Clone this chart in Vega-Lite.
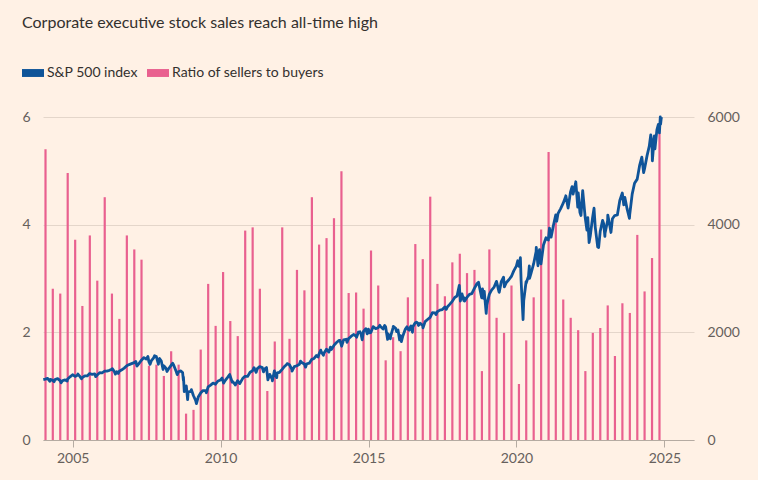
{
  "$schema": "https://vega.github.io/schema/vega-lite/v6.json",
  "autosize": "none",
  "width": 651,
  "height": 323,
  "padding": {"left": 43, "top": 117, "right": 64, "bottom": 40},
  "background": "#fff1e5",
  "config": {
    "view": {"stroke": null},
    "font": "Lato",
    "axis": {"labelFont": "Lato", "labelFontSize": 14, "labelColor": "#66605c", "titleFontSize": 0}
  },
  "title": {
    "text": "Corporate executive stock sales reach all-time high",
    "anchor": "start",
    "frame": "group",
    "dx": -21,
    "offset": 31,
    "fontSize": 16,
    "fontWeight": "normal",
    "font": "Lato",
    "color": "#33302e"
  },
  "datasets": {
    "ratio": [
      {"date": "2004-02-01", "ratio": 5.40}, {"date": "2004-05-01", "ratio": 2.81}, {"date": "2004-08-01", "ratio": 2.72}, {"date": "2004-11-01", "ratio": 4.96},
      {"date": "2005-02-01", "ratio": 3.72}, {"date": "2005-05-01", "ratio": 2.49}, {"date": "2005-08-01", "ratio": 3.80}, {"date": "2005-11-01", "ratio": 2.96},
      {"date": "2006-02-01", "ratio": 4.51}, {"date": "2006-05-01", "ratio": 2.72}, {"date": "2006-08-01", "ratio": 2.25}, {"date": "2006-11-01", "ratio": 3.80},
      {"date": "2007-02-01", "ratio": 3.54}, {"date": "2007-05-01", "ratio": 3.35}, {"date": "2007-08-01", "ratio": 1.38}, {"date": "2007-11-01", "ratio": 1.40},
      {"date": "2008-02-01", "ratio": 1.19}, {"date": "2008-05-01", "ratio": 1.65}, {"date": "2008-08-01", "ratio": 1.40}, {"date": "2008-11-01", "ratio": 0.49},
      {"date": "2009-02-01", "ratio": 0.56}, {"date": "2009-05-01", "ratio": 1.68}, {"date": "2009-08-01", "ratio": 2.90}, {"date": "2009-11-01", "ratio": 2.12},
      {"date": "2010-02-01", "ratio": 3.12}, {"date": "2010-05-01", "ratio": 2.21}, {"date": "2010-08-01", "ratio": 1.93}, {"date": "2010-11-01", "ratio": 3.89},
      {"date": "2011-02-01", "ratio": 3.95}, {"date": "2011-05-01", "ratio": 2.81}, {"date": "2011-08-01", "ratio": 0.91}, {"date": "2011-11-01", "ratio": 1.83},
      {"date": "2012-02-01", "ratio": 3.95}, {"date": "2012-05-01", "ratio": 1.88}, {"date": "2012-08-01", "ratio": 3.16}, {"date": "2012-11-01", "ratio": 2.78},
      {"date": "2013-02-01", "ratio": 4.51}, {"date": "2013-05-01", "ratio": 3.63}, {"date": "2013-08-01", "ratio": 3.75}, {"date": "2013-11-01", "ratio": 4.12},
      {"date": "2014-02-01", "ratio": 4.99}, {"date": "2014-05-01", "ratio": 2.73}, {"date": "2014-08-01", "ratio": 2.74}, {"date": "2014-11-01", "ratio": 2.44},
      {"date": "2015-02-01", "ratio": 3.52}, {"date": "2015-05-01", "ratio": 2.87}, {"date": "2015-08-01", "ratio": 1.48}, {"date": "2015-11-01", "ratio": 1.91},
      {"date": "2016-02-01", "ratio": 1.65}, {"date": "2016-05-01", "ratio": 2.65}, {"date": "2016-08-01", "ratio": 3.64}, {"date": "2016-11-01", "ratio": 3.36},
      {"date": "2017-02-01", "ratio": 4.52}, {"date": "2017-05-01", "ratio": 2.90}, {"date": "2017-08-01", "ratio": 2.67}, {"date": "2017-11-01", "ratio": 3.30},
      {"date": "2018-02-01", "ratio": 3.46}, {"date": "2018-05-01", "ratio": 3.10}, {"date": "2018-08-01", "ratio": 3.16}, {"date": "2018-11-01", "ratio": 1.28},
      {"date": "2019-02-01", "ratio": 3.54}, {"date": "2019-05-01", "ratio": 2.27}, {"date": "2019-08-01", "ratio": 1.99}, {"date": "2019-11-01", "ratio": 2.87},
      {"date": "2020-02-01", "ratio": 1.04}, {"date": "2020-05-01", "ratio": 1.85}, {"date": "2020-08-01", "ratio": 2.65}, {"date": "2020-11-01", "ratio": 3.91},
      {"date": "2021-02-01", "ratio": 5.35}, {"date": "2021-05-01", "ratio": 4.04}, {"date": "2021-08-01", "ratio": 2.61}, {"date": "2021-11-01", "ratio": 2.27},
      {"date": "2022-02-01", "ratio": 2.04}, {"date": "2022-05-01", "ratio": 1.28}, {"date": "2022-08-01", "ratio": 1.99}, {"date": "2022-11-01", "ratio": 2.08},
      {"date": "2023-02-01", "ratio": 2.50}, {"date": "2023-05-01", "ratio": 1.56}, {"date": "2023-08-01", "ratio": 2.54}, {"date": "2023-11-01", "ratio": 2.36},
      {"date": "2024-02-01", "ratio": 3.81}, {"date": "2024-05-01", "ratio": 2.76}, {"date": "2024-08-01", "ratio": 3.38}, {"date": "2024-11-01", "ratio": 5.70}
    ],
    "spx": [
      {"date": "2004-01-05", "spx": 1122}, {"date": "2004-01-30", "spx": 1131}, {"date": "2004-02-27", "spx": 1145}, {"date": "2004-03-24", "spx": 1091}, {"date": "2004-03-31", "spx": 1126}, {"date": "2004-04-30", "spx": 1107}, {"date": "2004-05-17", "spx": 1084}, {"date": "2004-05-28", "spx": 1121}, {"date": "2004-06-30", "spx": 1141}, {"date": "2004-07-30", "spx": 1102}, {"date": "2004-08-12", "spx": 1063}, {"date": "2004-08-31", "spx": 1104}, {"date": "2004-09-30", "spx": 1115}, {"date": "2004-10-25", "spx": 1095}, {"date": "2004-10-29", "spx": 1130}, {"date": "2004-11-30", "spx": 1174}, {"date": "2004-12-31", "spx": 1212},
      {"date": "2005-01-31", "spx": 1181}, {"date": "2005-02-28", "spx": 1204}, {"date": "2005-03-07", "spx": 1225}, {"date": "2005-03-31", "spx": 1181}, {"date": "2005-04-20", "spx": 1138}, {"date": "2005-04-29", "spx": 1157}, {"date": "2005-05-31", "spx": 1192}, {"date": "2005-06-30", "spx": 1191}, {"date": "2005-07-29", "spx": 1234}, {"date": "2005-08-31", "spx": 1220}, {"date": "2005-09-30", "spx": 1229}, {"date": "2005-10-13", "spx": 1177}, {"date": "2005-10-31", "spx": 1207}, {"date": "2005-11-30", "spx": 1249}, {"date": "2005-12-30", "spx": 1248},
      {"date": "2006-01-31", "spx": 1280}, {"date": "2006-02-28", "spx": 1281}, {"date": "2006-03-31", "spx": 1295}, {"date": "2006-04-28", "spx": 1311}, {"date": "2006-05-05", "spx": 1325}, {"date": "2006-05-31", "spx": 1270}, {"date": "2006-06-13", "spx": 1223}, {"date": "2006-06-30", "spx": 1270}, {"date": "2006-07-18", "spx": 1236}, {"date": "2006-07-31", "spx": 1277}, {"date": "2006-08-31", "spx": 1304}, {"date": "2006-09-29", "spx": 1336}, {"date": "2006-10-31", "spx": 1378}, {"date": "2006-11-30", "spx": 1401}, {"date": "2006-12-29", "spx": 1418},
      {"date": "2007-01-31", "spx": 1438}, {"date": "2007-02-20", "spx": 1459}, {"date": "2007-03-05", "spx": 1374}, {"date": "2007-03-30", "spx": 1421}, {"date": "2007-04-30", "spx": 1482}, {"date": "2007-05-31", "spx": 1531}, {"date": "2007-06-29", "spx": 1503}, {"date": "2007-07-19", "spx": 1553}, {"date": "2007-07-31", "spx": 1455}, {"date": "2007-08-15", "spx": 1406}, {"date": "2007-08-31", "spx": 1474}, {"date": "2007-09-28", "spx": 1527}, {"date": "2007-10-09", "spx": 1565}, {"date": "2007-10-31", "spx": 1549}, {"date": "2007-11-26", "spx": 1407}, {"date": "2007-11-30", "spx": 1481}, {"date": "2007-12-10", "spx": 1515}, {"date": "2007-12-31", "spx": 1468},
      {"date": "2008-01-22", "spx": 1310}, {"date": "2008-01-31", "spx": 1379}, {"date": "2008-02-29", "spx": 1331}, {"date": "2008-03-10", "spx": 1273}, {"date": "2008-03-31", "spx": 1323}, {"date": "2008-04-30", "spx": 1386}, {"date": "2008-05-19", "spx": 1426}, {"date": "2008-05-30", "spx": 1400}, {"date": "2008-06-30", "spx": 1280}, {"date": "2008-07-15", "spx": 1214}, {"date": "2008-07-31", "spx": 1267}, {"date": "2008-08-29", "spx": 1283}, {"date": "2008-09-19", "spx": 1255}, {"date": "2008-09-29", "spx": 1106}, {"date": "2008-09-30", "spx": 1166}, {"date": "2008-10-10", "spx": 899}, {"date": "2008-10-31", "spx": 969}, {"date": "2008-11-04", "spx": 1005}, {"date": "2008-11-20", "spx": 752}, {"date": "2008-11-28", "spx": 896}, {"date": "2008-12-31", "spx": 903},
      {"date": "2009-01-06", "spx": 935}, {"date": "2009-01-30", "spx": 826}, {"date": "2009-02-27", "spx": 735}, {"date": "2009-03-09", "spx": 677}, {"date": "2009-03-31", "spx": 798}, {"date": "2009-04-30", "spx": 873}, {"date": "2009-05-29", "spx": 919}, {"date": "2009-06-30", "spx": 919}, {"date": "2009-07-10", "spx": 879}, {"date": "2009-07-31", "spx": 987}, {"date": "2009-08-31", "spx": 1021}, {"date": "2009-09-30", "spx": 1057}, {"date": "2009-10-30", "spx": 1036}, {"date": "2009-11-30", "spx": 1096}, {"date": "2009-12-31", "spx": 1115},
      {"date": "2010-01-19", "spx": 1150}, {"date": "2010-02-08", "spx": 1056}, {"date": "2010-02-26", "spx": 1104}, {"date": "2010-03-31", "spx": 1169}, {"date": "2010-04-23", "spx": 1217}, {"date": "2010-05-25", "spx": 1074}, {"date": "2010-05-28", "spx": 1089}, {"date": "2010-06-30", "spx": 1031}, {"date": "2010-07-02", "spx": 1022}, {"date": "2010-07-30", "spx": 1102}, {"date": "2010-08-26", "spx": 1047}, {"date": "2010-09-30", "spx": 1141}, {"date": "2010-10-29", "spx": 1183}, {"date": "2010-11-30", "spx": 1181}, {"date": "2010-12-31", "spx": 1258},
      {"date": "2011-01-31", "spx": 1286}, {"date": "2011-02-18", "spx": 1343}, {"date": "2011-03-16", "spx": 1257}, {"date": "2011-03-31", "spx": 1326}, {"date": "2011-04-29", "spx": 1364}, {"date": "2011-05-31", "spx": 1345}, {"date": "2011-06-15", "spx": 1266}, {"date": "2011-06-30", "spx": 1321}, {"date": "2011-07-22", "spx": 1345}, {"date": "2011-08-08", "spx": 1119}, {"date": "2011-08-31", "spx": 1219}, {"date": "2011-09-30", "spx": 1131}, {"date": "2011-10-03", "spx": 1099}, {"date": "2011-10-27", "spx": 1285}, {"date": "2011-10-31", "spx": 1253}, {"date": "2011-11-25", "spx": 1159}, {"date": "2011-11-30", "spx": 1247}, {"date": "2011-12-30", "spx": 1258},
      {"date": "2012-01-31", "spx": 1312}, {"date": "2012-02-29", "spx": 1366}, {"date": "2012-03-30", "spx": 1408}, {"date": "2012-04-02", "spx": 1419}, {"date": "2012-04-30", "spx": 1398}, {"date": "2012-05-31", "spx": 1310}, {"date": "2012-06-01", "spx": 1278}, {"date": "2012-06-29", "spx": 1362}, {"date": "2012-07-31", "spx": 1379}, {"date": "2012-08-31", "spx": 1407}, {"date": "2012-09-14", "spx": 1466}, {"date": "2012-09-28", "spx": 1441}, {"date": "2012-10-31", "spx": 1412}, {"date": "2012-11-15", "spx": 1353}, {"date": "2012-11-30", "spx": 1416}, {"date": "2012-12-31", "spx": 1426},
      {"date": "2013-01-31", "spx": 1498}, {"date": "2013-02-28", "spx": 1515}, {"date": "2013-03-28", "spx": 1569}, {"date": "2013-04-18", "spx": 1541}, {"date": "2013-04-30", "spx": 1598}, {"date": "2013-05-21", "spx": 1669}, {"date": "2013-05-31", "spx": 1631}, {"date": "2013-06-24", "spx": 1573}, {"date": "2013-06-28", "spx": 1606}, {"date": "2013-07-31", "spx": 1686}, {"date": "2013-08-30", "spx": 1633}, {"date": "2013-09-18", "spx": 1726}, {"date": "2013-09-30", "spx": 1682}, {"date": "2013-10-31", "spx": 1757}, {"date": "2013-11-29", "spx": 1806}, {"date": "2013-12-31", "spx": 1848},
      {"date": "2014-01-15", "spx": 1848}, {"date": "2014-02-03", "spx": 1742}, {"date": "2014-02-28", "spx": 1859}, {"date": "2014-03-31", "spx": 1872}, {"date": "2014-04-11", "spx": 1815}, {"date": "2014-04-30", "spx": 1884}, {"date": "2014-05-30", "spx": 1924}, {"date": "2014-06-30", "spx": 1960}, {"date": "2014-07-31", "spx": 1931}, {"date": "2014-08-07", "spx": 1910}, {"date": "2014-08-29", "spx": 2003}, {"date": "2014-09-18", "spx": 2011}, {"date": "2014-09-30", "spx": 1972}, {"date": "2014-10-15", "spx": 1862}, {"date": "2014-10-31", "spx": 2018}, {"date": "2014-11-28", "spx": 2068}, {"date": "2014-12-16", "spx": 1973}, {"date": "2014-12-31", "spx": 2059},
      {"date": "2015-01-15", "spx": 1992}, {"date": "2015-01-30", "spx": 1995}, {"date": "2015-02-27", "spx": 2105}, {"date": "2015-03-31", "spx": 2068}, {"date": "2015-04-30", "spx": 2086}, {"date": "2015-05-21", "spx": 2131}, {"date": "2015-05-29", "spx": 2107}, {"date": "2015-06-30", "spx": 2063}, {"date": "2015-07-20", "spx": 2128}, {"date": "2015-07-31", "spx": 2104}, {"date": "2015-08-25", "spx": 1868}, {"date": "2015-08-31", "spx": 1972}, {"date": "2015-09-28", "spx": 1881}, {"date": "2015-09-30", "spx": 1920}, {"date": "2015-10-30", "spx": 2079}, {"date": "2015-11-03", "spx": 2109}, {"date": "2015-11-30", "spx": 2080}, {"date": "2015-12-14", "spx": 2012}, {"date": "2015-12-31", "spx": 2044},
      {"date": "2016-01-20", "spx": 1859}, {"date": "2016-01-29", "spx": 1940}, {"date": "2016-02-11", "spx": 1829}, {"date": "2016-02-29", "spx": 1932}, {"date": "2016-03-31", "spx": 2060}, {"date": "2016-04-20", "spx": 2102}, {"date": "2016-04-29", "spx": 2065}, {"date": "2016-05-19", "spx": 2040}, {"date": "2016-05-31", "spx": 2097}, {"date": "2016-06-08", "spx": 2119}, {"date": "2016-06-27", "spx": 2001}, {"date": "2016-06-30", "spx": 2099}, {"date": "2016-07-29", "spx": 2174}, {"date": "2016-08-15", "spx": 2190}, {"date": "2016-08-31", "spx": 2171}, {"date": "2016-09-09", "spx": 2128}, {"date": "2016-09-30", "spx": 2168}, {"date": "2016-10-31", "spx": 2126}, {"date": "2016-11-04", "spx": 2085}, {"date": "2016-11-30", "spx": 2199}, {"date": "2016-12-30", "spx": 2239},
      {"date": "2017-01-31", "spx": 2279}, {"date": "2017-02-28", "spx": 2364}, {"date": "2017-03-31", "spx": 2363}, {"date": "2017-04-13", "spx": 2329}, {"date": "2017-04-28", "spx": 2384}, {"date": "2017-05-31", "spx": 2412}, {"date": "2017-06-30", "spx": 2423}, {"date": "2017-07-31", "spx": 2470}, {"date": "2017-08-18", "spx": 2426}, {"date": "2017-08-31", "spx": 2472}, {"date": "2017-09-29", "spx": 2519}, {"date": "2017-10-31", "spx": 2575}, {"date": "2017-11-30", "spx": 2648}, {"date": "2017-12-29", "spx": 2674},
      {"date": "2018-01-26", "spx": 2873}, {"date": "2018-02-08", "spx": 2581}, {"date": "2018-02-28", "spx": 2714}, {"date": "2018-03-23", "spx": 2588}, {"date": "2018-03-29", "spx": 2641}, {"date": "2018-04-02", "spx": 2582}, {"date": "2018-04-30", "spx": 2648}, {"date": "2018-05-31", "spx": 2705}, {"date": "2018-06-29", "spx": 2718}, {"date": "2018-07-31", "spx": 2816}, {"date": "2018-08-31", "spx": 2902}, {"date": "2018-09-20", "spx": 2931}, {"date": "2018-10-29", "spx": 2641}, {"date": "2018-10-31", "spx": 2712}, {"date": "2018-11-08", "spx": 2806}, {"date": "2018-11-23", "spx": 2633}, {"date": "2018-11-30", "spx": 2760}, {"date": "2018-12-24", "spx": 2351}, {"date": "2018-12-31", "spx": 2507},
      {"date": "2019-01-31", "spx": 2704}, {"date": "2019-02-28", "spx": 2784}, {"date": "2019-03-29", "spx": 2834}, {"date": "2019-04-30", "spx": 2946}, {"date": "2019-05-31", "spx": 2752}, {"date": "2019-06-03", "spx": 2744}, {"date": "2019-06-28", "spx": 2942}, {"date": "2019-07-26", "spx": 3025}, {"date": "2019-08-05", "spx": 2845}, {"date": "2019-08-30", "spx": 2926}, {"date": "2019-09-30", "spx": 2977}, {"date": "2019-10-31", "spx": 3038}, {"date": "2019-11-29", "spx": 3141}, {"date": "2019-12-31", "spx": 3231},
      {"date": "2020-01-17", "spx": 3330}, {"date": "2020-01-31", "spx": 3226}, {"date": "2020-02-19", "spx": 3386}, {"date": "2020-02-28", "spx": 2954}, {"date": "2020-03-23", "spx": 2237}, {"date": "2020-03-31", "spx": 2585}, {"date": "2020-04-29", "spx": 2940}, {"date": "2020-04-30", "spx": 2912}, {"date": "2020-05-29", "spx": 3044}, {"date": "2020-06-08", "spx": 3232}, {"date": "2020-06-11", "spx": 3002}, {"date": "2020-06-30", "spx": 3100}, {"date": "2020-07-31", "spx": 3271}, {"date": "2020-08-31", "spx": 3500}, {"date": "2020-09-02", "spx": 3580}, {"date": "2020-09-23", "spx": 3237}, {"date": "2020-09-30", "spx": 3363}, {"date": "2020-10-12", "spx": 3534}, {"date": "2020-10-30", "spx": 3270}, {"date": "2020-11-30", "spx": 3622}, {"date": "2020-12-31", "spx": 3756},
      {"date": "2021-01-29", "spx": 3714}, {"date": "2021-02-12", "spx": 3935}, {"date": "2021-03-04", "spx": 3768}, {"date": "2021-03-31", "spx": 3973}, {"date": "2021-04-30", "spx": 4181}, {"date": "2021-05-12", "spx": 4063}, {"date": "2021-05-28", "spx": 4204}, {"date": "2021-06-30", "spx": 4298}, {"date": "2021-07-30", "spx": 4395}, {"date": "2021-08-31", "spx": 4523}, {"date": "2021-09-02", "spx": 4537}, {"date": "2021-09-30", "spx": 4308}, {"date": "2021-10-29", "spx": 4605}, {"date": "2021-11-18", "spx": 4705}, {"date": "2021-11-30", "spx": 4567}, {"date": "2021-12-31", "spx": 4766},
      {"date": "2022-01-03", "spx": 4797}, {"date": "2022-01-27", "spx": 4326}, {"date": "2022-02-02", "spx": 4589}, {"date": "2022-02-23", "spx": 4226}, {"date": "2022-03-08", "spx": 4171}, {"date": "2022-03-29", "spx": 4632}, {"date": "2022-04-29", "spx": 4132}, {"date": "2022-05-20", "spx": 3901}, {"date": "2022-05-31", "spx": 4132}, {"date": "2022-06-16", "spx": 3667}, {"date": "2022-06-30", "spx": 3785}, {"date": "2022-07-29", "spx": 4130}, {"date": "2022-08-16", "spx": 4305}, {"date": "2022-08-31", "spx": 3955}, {"date": "2022-09-30", "spx": 3586}, {"date": "2022-10-12", "spx": 3577}, {"date": "2022-10-31", "spx": 3872}, {"date": "2022-11-30", "spx": 4080}, {"date": "2022-12-13", "spx": 4019}, {"date": "2022-12-28", "spx": 3783}, {"date": "2022-12-30", "spx": 3840},
      {"date": "2023-01-31", "spx": 4077}, {"date": "2023-02-02", "spx": 4179}, {"date": "2023-02-28", "spx": 3970}, {"date": "2023-03-13", "spx": 3855}, {"date": "2023-03-31", "spx": 4109}, {"date": "2023-04-28", "spx": 4169}, {"date": "2023-05-31", "spx": 4180}, {"date": "2023-06-30", "spx": 4450}, {"date": "2023-07-31", "spx": 4589}, {"date": "2023-08-18", "spx": 4370}, {"date": "2023-08-31", "spx": 4508}, {"date": "2023-09-29", "spx": 4288}, {"date": "2023-10-27", "spx": 4117}, {"date": "2023-10-31", "spx": 4194}, {"date": "2023-11-30", "spx": 4568}, {"date": "2023-12-29", "spx": 4770},
      {"date": "2024-01-31", "spx": 4846}, {"date": "2024-02-29", "spx": 5096}, {"date": "2024-03-28", "spx": 5254}, {"date": "2024-04-19", "spx": 4967}, {"date": "2024-04-30", "spx": 5036}, {"date": "2024-05-31", "spx": 5278}, {"date": "2024-06-28", "spx": 5460}, {"date": "2024-07-16", "spx": 5667}, {"date": "2024-07-31", "spx": 5522}, {"date": "2024-08-05", "spx": 5186}, {"date": "2024-08-30", "spx": 5648}, {"date": "2024-09-06", "spx": 5408}, {"date": "2024-09-30", "spx": 5762}, {"date": "2024-10-18", "spx": 5864}, {"date": "2024-10-31", "spx": 5705}, {"date": "2024-11-11", "spx": 6001}, {"date": "2024-11-15", "spx": 5870}, {"date": "2024-11-22", "spx": 5969}, {"date": "2024-11-27", "spx": 5998}
    ]
  },
  "layer": [
    {
      "data": {"name": "ratio"},
      "mark": {"type": "bar", "width": 2.2},
      "encoding": {
        "x": {
          "field": "date", "type": "temporal",
          "scale": {"domain": ["2004-01-01", "2026-01-01"], "padding": 0},
          "axis": {
            "title": null, "format": "%Y",
            "values": [{"year": 2005, "month": 1, "date": 1}, {"year": 2010, "month": 1, "date": 1}, {"year": 2015, "month": 1, "date": 1}, {"year": 2020, "month": 1, "date": 1}, {"year": 2025, "month": 1, "date": 1}],
            "grid": false, "domainColor": "#b5aba2", "tickColor": "#b5aba2", "tickSize": 7, "labelPadding": 4
          }
        },
        "y": {
          "field": "ratio", "type": "quantitative",
          "scale": {"domain": [0, 6]},
          "axis": {"title": null, "values": [0, 2, 4, 6], "grid": true, "gridColor": "#e4d6ca", "domain": false, "ticks": false, "labelPadding": 13}
        },
        "color": {
          "datum": "Ratio of sellers to buyers",
          "scale": {"domain": ["S&P 500 index", "Ratio of sellers to buyers"], "range": ["#0f5499", "#e9608f"]},
          "legend": {
            "title": null, "orient": "none", "legendX": -21, "legendY": -55, "direction": "horizontal",
            "symbolType": "M-1,-0.36H1V0.36H-1Z", "symbolSize": 484, "symbolStrokeWidth": 0,
            "labelFontSize": 14, "labelFont": "Lato", "labelColor": "#33302e", "labelOffset": 3, "columnPadding": 9, "padding": 0,
            "encode": {"symbols": {"update": {"fill": {"scale": "color", "field": "value"}, "opacity": {"value": 1}}}}
          }
        }
      }
    },
    {
      "data": {"name": "spx"},
      "mark": {"type": "line", "strokeWidth": 2.8, "strokeJoin": "round"},
      "encoding": {
        "x": {"field": "date", "type": "temporal"},
        "y": {
          "field": "spx", "type": "quantitative",
          "scale": {"domain": [0, 6000]},
          "axis": {"title": null, "orient": "right", "format": "d", "values": [0, 2000, 4000, 6000], "grid": false, "domain": false, "ticks": false, "labelPadding": 13}
        },
        "color": {"datum": "S&P 500 index"}
      }
    }
  ],
  "resolve": {"scale": {"y": "independent"}}
}
